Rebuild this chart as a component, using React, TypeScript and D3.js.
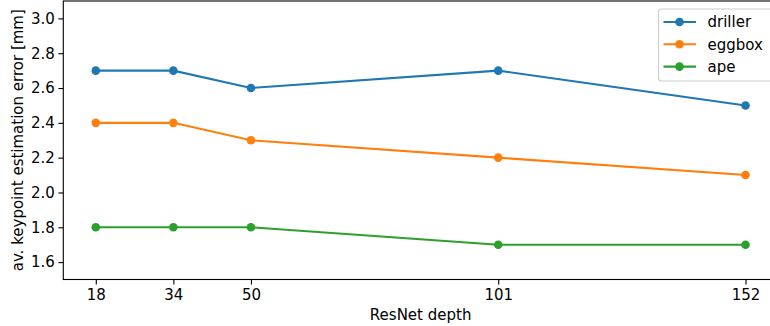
import * as d3 from 'd3';
import React, { useRef, useEffect } from 'react';

const depths = [18, 34, 50, 101, 152];
const seriesNames = ['driller', 'eggbox', 'ape'];
const driller = [2.7, 2.7, 2.6, 2.7, 2.5];
const eggbox = [2.4, 2.4, 2.3, 2.2, 2.1];
const ape = [1.8, 1.8, 1.8, 1.7, 1.7];
const yTicks = [1.6, 1.8, 2.0, 2.2, 2.4, 2.6, 2.8, 3.0];
const colors = ['#1f77b4', '#ff7f0e', '#2ca02c'];

const width = 770;
const height = 326;
const margin = { top: 1, right: -8, bottom: 46.5, left: 63.3 };
const font = 'DejaVu Sans, sans-serif';
const fs = 15;

const App = () => {
  const ref = useRef<SVGSVGElement>(null);

  useEffect(() => {
    const svg = d3.select(ref.current);
    svg.selectAll('*').remove();

    const x0 = margin.left;
    const x1 = width - margin.right;
    const y0 = height - margin.bottom;
    const y1 = margin.top;

    const xScale = d3.scaleLinear().domain([11.3, 158.7]).range([x0, x1]);
    const yScale = d3.scaleLinear().domain([1.5, 3.1]).range([y0, y1]);

    const xAxis = svg.append('g')
      .attr('transform', `translate(0,${y0})`)
      .call(d3.axisBottom(xScale).tickValues(depths).tickFormat(d3.format('d')).tickSize(4.9).tickPadding(4.5).tickSizeOuter(0));
    xAxis.select('.domain').remove();
    xAxis.selectAll('text').attr('font-size', fs).attr('font-family', font).attr('fill', '#000');
    xAxis.selectAll('line').attr('stroke', '#000').attr('stroke-width', 1.1);

    const yAxis = svg.append('g')
      .attr('transform', `translate(${x0},0)`)
      .call(d3.axisLeft(yScale).tickValues(yTicks).tickFormat(d3.format('.1f')).tickSize(4.9).tickPadding(3.5).tickSizeOuter(0));
    yAxis.select('.domain').remove();
    yAxis.selectAll('text').attr('font-size', fs).attr('font-family', font).attr('fill', '#000');
    yAxis.selectAll('line').attr('stroke', '#000').attr('stroke-width', 1.1);

    // spines
    svg.append('rect')
      .attr('x', x0).attr('y', y1)
      .attr('width', x1 - x0).attr('height', y0 - y1)
      .attr('fill', 'none').attr('stroke', '#000').attr('stroke-width', 1.1);

    const allSeries = [driller, eggbox, ape];
    const line = d3.line<number>()
      .x((d, i) => xScale(depths[i]))
      .y((d) => yScale(d));

    allSeries.forEach((values, s) => {
      svg.append('path')
        .attr('d', line(values))
        .attr('fill', 'none')
        .attr('stroke', colors[s])
        .attr('stroke-width', 2.1);
      svg.selectAll(`circle.s${s}`)
        .data(values)
        .enter()
        .append('circle')
        .attr('class', `s${s}`)
        .attr('cx', (d, i) => xScale(depths[i]))
        .attr('cy', (d) => yScale(d))
        .attr('r', 4.3)
        .attr('fill', colors[s]);
    });

    // axis labels
    svg.append('text')
      .attr('x', (x0 + 778) / 2)
      .attr('y', 320)
      .attr('text-anchor', 'middle')
      .attr('font-size', fs)
      .attr('font-family', font)
      .text('ResNet depth');

    svg.append('text')
      .attr('transform', `translate(23,${(y0 + y1) / 2}) rotate(-90)`)
      .attr('text-anchor', 'middle')
      .attr('font-size', fs)
      .attr('font-family', font)
      .text('av. keypoint estimation error [mm]');

    // legend
    const legend = svg.append('g');
    legend.append('rect')
      .attr('x', 658.5).attr('y', 9)
      .attr('width', 120).attr('height', 72)
      .attr('rx', 3)
      .attr('fill', '#fff')
      .attr('fill-opacity', 0.8)
      .attr('stroke', '#cccccc')
      .attr('stroke-width', 1.1);
    seriesNames.forEach((name, s) => {
      const ly = 22 + s * 22.3;
      legend.append('line')
        .attr('x1', 663.5).attr('x2', 696)
        .attr('y1', ly).attr('y2', ly)
        .attr('stroke', colors[s]).attr('stroke-width', 2.1);
      legend.append('circle')
        .attr('cx', 679.5).attr('cy', ly).attr('r', 4.3)
        .attr('fill', colors[s]);
      legend.append('text')
        .attr('x', 707.5).attr('y', ly)
        .attr('dy', '0.35em')
        .attr('font-size', fs)
        .attr('font-family', font)
        .text(name);
    });
  }, []);

  return (
    <div style={{ position: 'absolute', left: 0, top: 0 }}>
      <svg ref={ref} width={width} height={height} style={{ display: 'block', background: '#fff' }} />
    </div>
  );
};

export default App;
